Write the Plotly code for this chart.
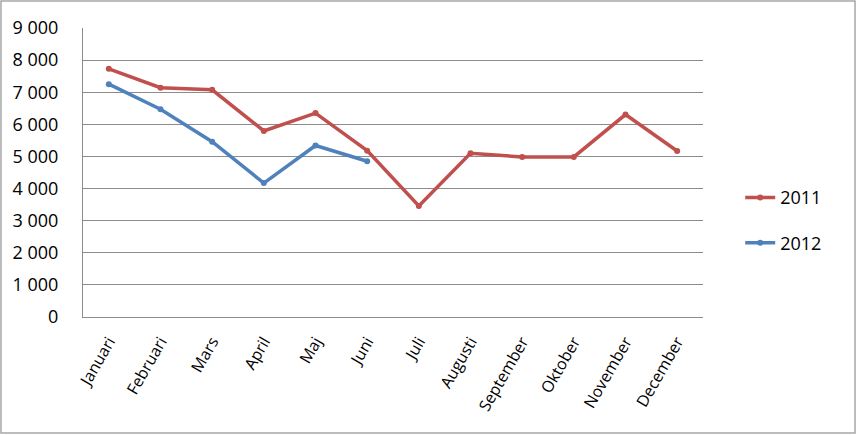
import plotly.graph_objects as go

# Monthly values
months = ['Januari', 'Februari', 'Mars', 'April', 'Maj', 'Juni', 'Juli',
          'Augusti', 'September', 'Oktober', 'November', 'December']
values_2011 = [7730, 7140, 7075, 5795, 6350, 5180, 3455, 5100, 4985, 4985, 6305, 5170]
values_2012 = [7250, 6470, 5460, 4170, 5340, 4850]
y_ticks = [0, 1000, 2000, 3000, 4000, 5000, 6000, 7000, 8000, 9000]
y_tick_labels = ['0', '1 000', '2 000', '3 000', '4 000', '5 000', '6 000', '7 000', '8 000', '9 000']

RED = '#C0504D'
BLUE = '#4F81BD'
GRID = '#8C8C8C'
FONT = 'Open Sans'

fig = go.Figure()
fig.add_trace(go.Scatter(x=months, y=values_2011, name='2011', mode='lines+markers',
                         line=dict(color=RED, width=3.5), marker=dict(color=RED, size=6),
                         legendgroup='a'))
fig.add_trace(go.Scatter(x=months[:len(values_2012)], y=values_2012, name='2012',
                         mode='lines+markers',
                         line=dict(color=BLUE, width=3.5), marker=dict(color=BLUE, size=6),
                         legendgroup='b'))

fig.update_layout(
    width=857, height=435,
    margin=dict(l=83, r=154, t=28, b=118, autoexpand=False),
    paper_bgcolor='white', plot_bgcolor='white',
    font=dict(family=FONT, size=17, color='black'),
    showlegend=True,
    legend=dict(x=1.06, xanchor='left', y=0.335, yanchor='middle',
                font=dict(size=18), tracegroupgap=19, bgcolor='rgba(0,0,0,0)'),
    xaxis=dict(type='category', categoryorder='array', categoryarray=months,
               range=[-0.5, 11.5], tickangle=-60, showgrid=False,
               showline=True, linecolor=GRID, linewidth=1, ticks='',
               ticklabelstandoff=8, tickfont=dict(size=16)),
    yaxis=dict(range=[0, 9000], tickvals=y_ticks, ticktext=y_tick_labels,
               showgrid=True, gridcolor=GRID, gridwidth=1,
               showline=True, linecolor=GRID, linewidth=1, zeroline=False,
               ticks='', ticklabelstandoff=20, tickfont=dict(size=18)),
)

# outer chart border
fig.add_shape(type='rect', xref='paper', yref='paper',
              x0=(1 - 83) / 620, x1=(855 - 83) / 620,
              y0=(317 - 433) / 289, y1=(317 - 1) / 289,
              line=dict(color='#A6A6A6', width=1.5), layer='below')

fig.write_html("out.html", config={'displayModeBar': False},
               post_script="document.body.style.margin='0';")
